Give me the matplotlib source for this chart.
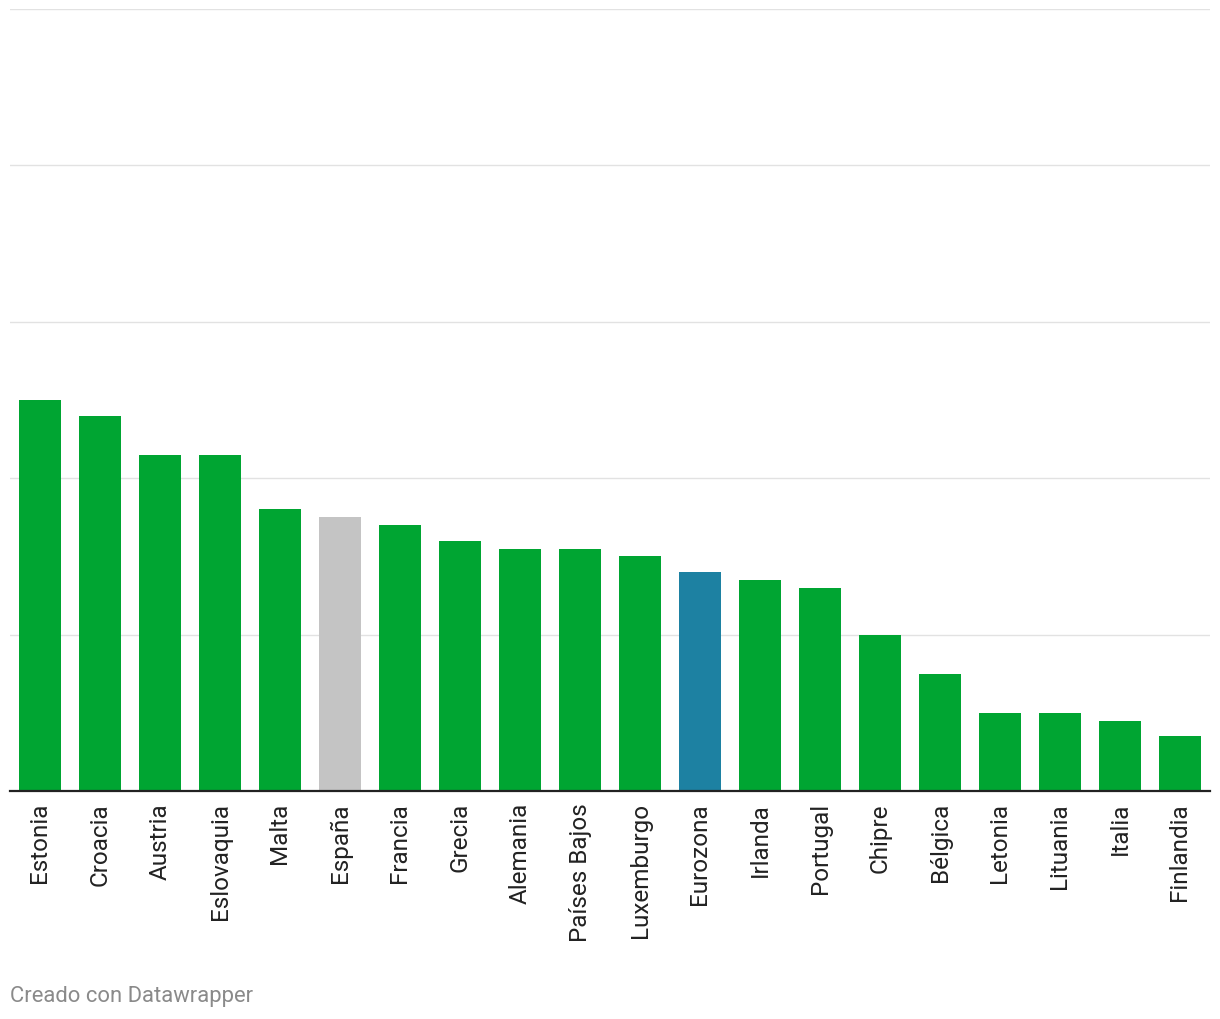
import matplotlib
matplotlib.use("Agg")
import matplotlib.pyplot as plt

plt.rcParams['font.family'] = ['Roboto', 'DejaVu Sans']

# Datos
paises = ["Estonia", "Croacia", "Austria", "Eslovaquia", "Malta", "España",
          "Francia", "Grecia", "Alemania", "Países Bajos", "Luxemburgo",
          "Eurozona", "Irlanda", "Portugal", "Chipre", "Bélgica", "Letonia",
          "Lituania", "Italia", "Finlandia"]
valores = [5.0, 4.8, 4.3, 4.3, 3.6, 3.5, 3.4, 3.2, 3.1, 3.1, 3.0,
           2.8, 2.7, 2.6, 2.0, 1.5, 1.0, 1.0, 0.9, 0.7]
destacados = {"España": "#c4c4c4", "Eurozona": "#1d81a2"}
verde = "#00a532"

colores = [destacados.get(p, verde) for p in paises]

fig = plt.figure(figsize=(12.2, 10.2), dpi=100)
ax = fig.add_axes([10 / 1220, 1 - 792 / 1020, 1200 / 1220, 782 / 1020])

x = range(len(paises))
ax.bar(x, valores, width=0.7, color=colores, zorder=2)

ax.set_xlim(-0.5, len(paises) - 0.5)
ax.set_ylim(0, 10)
ax.set_yticks([0, 2, 4, 6, 8, 10])
ax.yaxis.grid(True, color="#e2e2e2", linewidth=1, zorder=0)
ax.tick_params(axis="y", length=0, labelleft=False)

ax.set_xticks(list(x))
ax.set_xticklabels(paises, rotation=90, fontsize=17.5, color="#222222")
ax.tick_params(axis="x", length=0, pad=8)

for lado in ["top", "right", "left"]:
    ax.spines[lado].set_visible(False)
ax.spines["bottom"].set_color("#222222")
ax.spines["bottom"].set_linewidth(1.6)
ax.spines["bottom"].set_zorder(3)

fig.text(10 / 1220, 1 - 997 / 1020, "Creado con Datawrapper", fontsize=15.8,
         color="#8a8a8a", va="center", ha="left")

fig.savefig("out.png", dpi=100, facecolor="white")
